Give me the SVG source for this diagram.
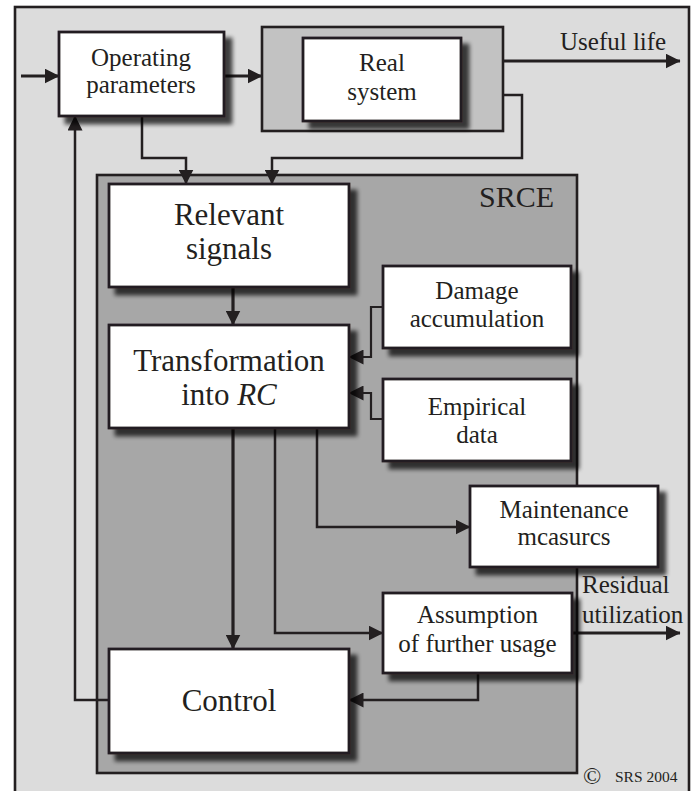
<svg xmlns="http://www.w3.org/2000/svg" width="699" height="791" viewBox="0 0 699 791">
<style>
.frame{stroke:#231f20;stroke-width:2.6}
.box{fill:#ffffff;stroke:#231f20;stroke-width:2.8;filter:url(#sh)}
.t{fill:#231f20;text-anchor:middle}
.l{text-anchor:start}
.big{font-size:31px}
.mid{font-size:25px}
.c{fill:none;stroke:#231f20;stroke-width:2.5;marker-end:url(#ah)}
.c3{stroke-width:3.2}
.c2{stroke-width:2.2}
</style>
<defs>
<filter id="sh" x="-10%" y="-10%" width="135%" height="145%">
<feGaussianBlur in="SourceAlpha" stdDeviation="2.2"/>
<feOffset dx="7" dy="7"/>
<feComponentTransfer><feFuncA type="linear" slope="0.72"/></feComponentTransfer>
<feMerge><feMergeNode/><feMergeNode in="SourceGraphic"/></feMerge>
</filter>
<marker id="ah" markerUnits="userSpaceOnUse" viewBox="0 0 15 15" markerWidth="15" markerHeight="15" refX="14.5" refY="7.5" orient="auto">
<path d="M0,0 L15,7.5 L0,15 z" fill="#231f20"/>
</marker>
</defs>
<g id="background">
<rect class="frame" x="15" y="7" width="674" height="800" fill="#dcdcdc"/>
</g>
<g font-family="'Liberation Serif', 'Times New Roman', Tinos, 'DejaVu Serif', serif">
<g id="srce">
<rect class="frame" x="97" y="175" width="480" height="598" fill="#a7a7a7"/>
<text class="t l" x="479" y="207" font-size="30">SRCE</text>
</g>
<g id="real-system-frame">
<rect class="frame" x="262" y="27" width="241" height="104" fill="#c2c2c2"/>
</g>
<g id="connectors">
<path class="c c3" d="M21,76 H59"/>
<path class="c c3" d="M224,76 H262"/>
<path class="c c3" d="M503,61 H680"/>
<path class="c" d="M142,116 V158 H186 V184"/>
<path class="c" d="M503,95 H522 V158 H272 V184"/>
<path class="c c3" d="M233,287 V325"/>
<path class="c c2" d="M383,307 H371 V357 H349"/>
<path class="c c2" d="M383,419 H371 V393 H349"/>
<path class="c" d="M317,428 V527 H470"/>
<path class="c" d="M275,428 V633 H383"/>
<path class="c c3" d="M233,428 V649"/>
<path class="c c3" d="M572,633 H680"/>
<path class="c" d="M478,673 V700 H349"/>
<path class="c" d="M109,700 H75 V116"/>
</g>
<g id="operating-parameters">
<rect class="box" x="59" y="32" width="165" height="84"/>
<text class="t mid" x="141" y="66">Operating</text>
<text class="t mid" x="141" y="93">parameters</text>
</g>
<g id="real-system">
<rect class="box" x="303" y="38" width="158" height="83"/>
<text class="t mid" x="382" y="71">Real</text>
<text class="t mid" x="382" y="100">system</text>
</g>
<g id="useful-life">
<text class="t l mid" x="560" y="50">Useful life</text>
</g>
<g id="relevant-signals">
<rect class="box" x="109" y="184" width="240" height="103"/>
<text class="t big" x="229" y="225">Relevant</text>
<text class="t big" x="229" y="259">signals</text>
</g>
<g id="transformation">
<rect class="box" x="109" y="325" width="240" height="103"/>
<text class="t big" x="229" y="371">Transformation</text>
<text class="t big" x="229" y="405">into <tspan font-style="italic">RC</tspan></text>
</g>
<g id="damage-accumulation">
<rect class="box" x="383" y="266" width="188" height="82"/>
<text class="t mid" x="477" y="299">Damage</text>
<text class="t mid" x="477" y="327">accumulation</text>
</g>
<g id="empirical-data">
<rect class="box" x="383" y="379" width="188" height="82"/>
<text class="t mid" x="477" y="415">Empirical</text>
<text class="t mid" x="477" y="443">data</text>
</g>
<g id="maintenance-measures">
<rect class="box" x="470" y="486" width="188" height="81"/>
<text class="t mid" x="564" y="518">Maintenance</text>
<text class="t mid" x="564" y="545">mcasurcs</text>
</g>
<g id="assumption">
<rect class="box" x="383" y="593" width="189" height="80"/>
<text class="t mid" x="477.5" y="623">Assumption</text>
<text class="t mid" x="477.5" y="652">of further usage</text>
</g>
<g id="residual-utilization">
<text class="t l mid" x="582" y="593">Residual</text>
<text class="t l mid" x="582" y="623">utilization</text>
</g>
<g id="control">
<rect class="box" x="109" y="649" width="240" height="104"/>
<text class="t big" x="229" y="711">Control</text>
</g>
<g id="copyright">
<text class="t l" x="583" y="784" font-size="24">©</text>
<text class="t l" x="615" y="782" font-size="15.5">SRS 2004</text>
</g>
</g>
</svg>
